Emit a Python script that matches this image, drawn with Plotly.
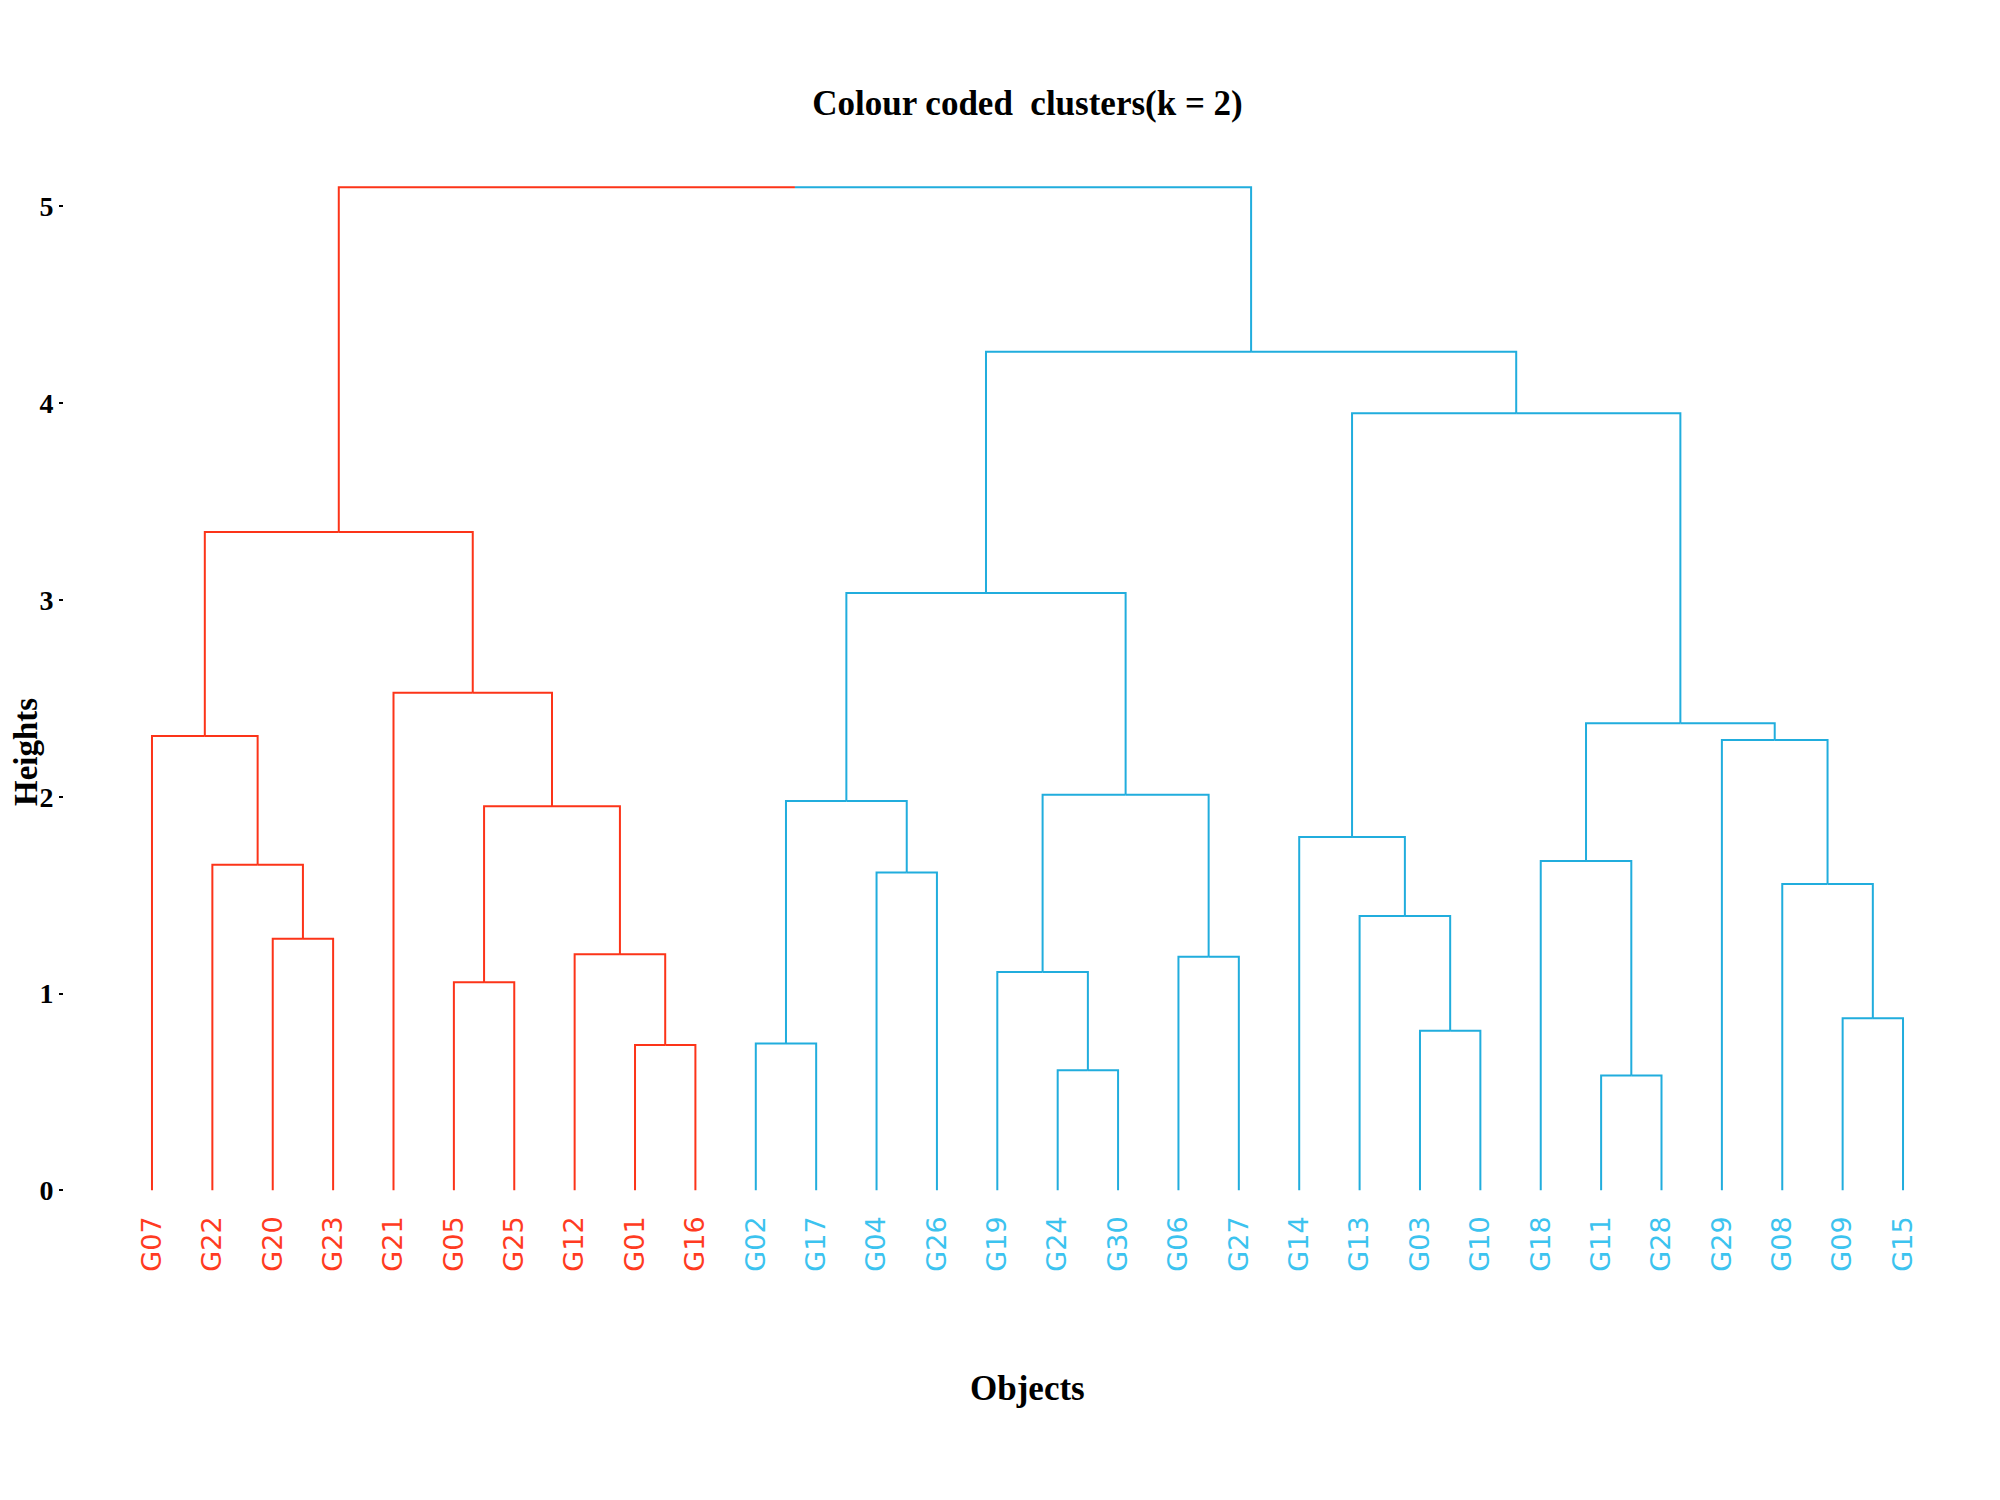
import plotly.graph_objects as go

# ── Data ─────────────────────────────────────────────────────────────────────

# leaves in dendrogram order (left to right)
LEAVES = ["G07", "G22", "G20", "G23", "G21", "G05", "G25", "G12", "G01", "G16",
          "G02", "G17", "G04", "G26", "G19", "G24", "G30", "G06", "G27", "G14",
          "G13", "G03", "G10", "G18", "G11", "G28", "G29", "G08", "G09", "G15"]
CLUSTER = [1] * 10 + [2] * 20

# hclust-style merges: negative = leaf position (1-based), positive = earlier merge row
MERGE_A = [-25, -16, -9, -11, -22, -29, -6, -15, -18, -8, -3, -21, -28, -13, -2,
           -24, -20, 7, 4, 8, -27, -1, 16, -5, 19, 22, 17, 25, 26]
MERGE_B = [-26, -17, -10, -12, -23, -30, -7, 2, -19, 3, -4, 5, 6, -14, 11,
           1, 12, 10, 14, 9, 13, 15, 21, 18, 20, 24, 23, 27, 28]
MERGE_H = [0.584, 0.610, 0.739, 0.746, 0.811, 0.875, 1.057, 1.109, 1.187, 1.200,
           1.278, 1.394, 1.556, 1.615, 1.654, 1.673, 1.796, 1.952, 1.978, 2.010,
           2.289, 2.309, 2.374, 2.529, 3.035, 3.346, 3.949, 4.261, 5.097]

Y_TICKS = [0, 1, 2, 3, 4, 5]

# ── Style ────────────────────────────────────────────────────────────────────

LINE_COLORS = {1: "#FC3419", 2: "#21ADDD"}
LABEL_COLORS = {1: "#FF3B22", 2: "#3CC3EF"}
SERIF = "Liberation Serif, Times New Roman, serif"
SANS = "DejaVu Sans, sans-serif"

# page body has an 8px margin, so everything is placed 8px up/left
W, H = 2000, 1500
M_L, M_R, M_T, M_B = 56, 17, 100, 298


def node_info(ref, merges):
    """x position, height and cluster (None if mixed) of a leaf or merge."""
    if ref < 0:
        i = -ref - 1
        return i + 1, 0.0, CLUSTER[i]
    return merges[ref - 1]


def main():
    merges = []
    segs = {1: ([], []), 2: ([], [])}
    for a, b, h in zip(MERGE_A, MERGE_B, MERGE_H):
        xa, ha, ca = node_info(a, merges)
        xb, hb, cb = node_info(b, merges)
        xm = (xa + xb) / 2
        for xc, hc, cc in ((xa, ha, ca), (xb, hb, cb)):
            xs, ys = segs[cc]
            xs += [xc, xc, xm, None]
            ys += [hc, h, h, None]
        merges.append((xm, h, ca if ca == cb else None))

    fig = go.Figure()
    for c, (xs, ys) in segs.items():
        fig.add_trace(go.Scatter(
            x=xs, y=ys, mode="lines",
            line=dict(color=LINE_COLORS[c], width=2),
            hoverinfo="skip", showlegend=False,
        ))

    ticktext = [f"<span style='color:{LABEL_COLORS[c]}'>{name}</span>"
                for name, c in zip(LEAVES, CLUSTER)]

    plot_w = W - M_L - M_R
    plot_h = H - M_T - M_B
    # position helpers: page pixel -> plot-area paper coords
    px = lambda x: (x - 8 - M_L) / plot_w
    py = lambda y: (H - M_B - (y - 8)) / plot_h

    fig.update_layout(
        width=W, height=H,
        paper_bgcolor="white", plot_bgcolor="white",
        margin=dict(l=M_L, r=M_R, t=M_T, b=M_B),
        title=dict(text="Colour coded  clusters(k = 2)", x=0.5, xanchor="center",
                   y=1 - (103 - 8) / H, yanchor="middle", xref="paper",
                   font=dict(family=SERIF, size=35, color="black", weight="bold")),
        xaxis=dict(range=[-0.457, 31.457], tickvals=list(range(1, len(LEAVES) + 1)),
                   ticktext=ticktext, tickangle=-90, showgrid=False, zeroline=False,
                   showline=False, ticks="", tickfont=dict(family=SANS, size=27)),
        yaxis=dict(range=[-0.1, 5.5], tickvals=Y_TICKS, showgrid=False, zeroline=False,
                   showline=False, ticks="outside", ticklen=4, tickwidth=1.5,
                   tickcolor="black",
                   tickfont=dict(family=SERIF, size=28, color="black", weight="bold")),
        hovermode=False,
        annotations=[
            dict(text="Objects", x=px(1028), y=py(1388), xref="paper", yref="paper",
                 xanchor="center", yanchor="middle", showarrow=False,
                 font=dict(family=SERIF, size=35, color="black", weight="bold")),
            dict(text="Heights", x=px(26), y=py(752), xref="paper", yref="paper",
                 xanchor="center", yanchor="middle", textangle=-90, showarrow=False,
                 font=dict(family=SERIF, size=33, color="black", weight="bold")),
        ],
    )

    fig.write_html("out.html")


if __name__ == "__main__":
    main()
